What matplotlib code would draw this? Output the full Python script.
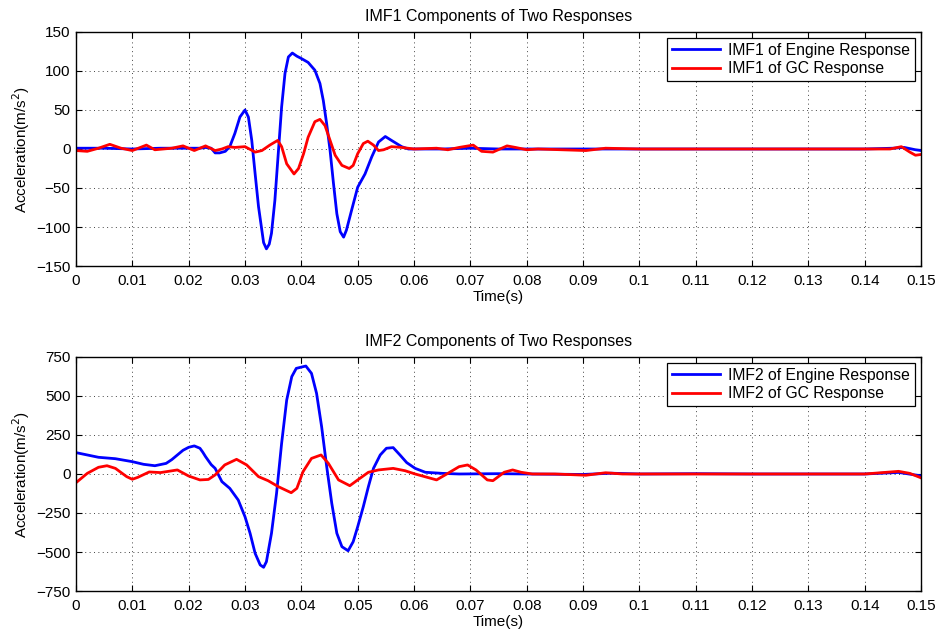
import matplotlib
matplotlib.use("Agg")
import matplotlib.pyplot as plt

plt.rcParams['font.family'] = ['Liberation Sans', 'DejaVu Sans']

# ---- IMF1 data ----
t_eng1 = [0.000, 0.005, 0.010, 0.015, 0.020, 0.022, 0.023, 0.0240, 0.0247, 0.0255,
          0.0265, 0.0273, 0.0282, 0.0291, 0.0300, 0.0306, 0.0312, 0.0318, 0.0324, 0.0333,
          0.0338, 0.0343, 0.0347, 0.0353, 0.0359, 0.0365, 0.0371, 0.0377, 0.0384, 0.0392,
          0.0400, 0.0412, 0.0424, 0.0433, 0.0439, 0.0445, 0.0451, 0.0457, 0.0463, 0.0469,
          0.0475, 0.0480, 0.0489, 0.0500, 0.0513, 0.0525, 0.0537, 0.0549, 0.0560, 0.0578,
          0.0590, 0.0600, 0.065, 0.070, 0.075, 0.080, 0.090, 0.100, 0.110, 0.120,
          0.130, 0.140, 0.145, 0.147, 0.149, 0.150]
y_eng1 = [1, 1, 0, 1, 1, 1, 2, 1, -5, -5,
          -3, 3, 20, 41, 50, 41, 11, -32, -74, -120,
          -128, -122, -108, -66, -6, 54, 97, 118, 123, 119,
          116, 111, 101, 84, 62, 32, -2, -44, -83, -106,
          -113, -104, -79, -49, -32, -10, 9, 16, 11, 3,
          0, 0, 0, 1, 0, 0, 0, 0, 0, 0,
          0, 0, 1, 2, -1, -2]

t_gc1 = [0.000, 0.002, 0.004, 0.006, 0.008, 0.010, 0.0125, 0.014, 0.017, 0.019,
         0.021, 0.023, 0.0247, 0.0259, 0.0270, 0.0282, 0.0300, 0.0318, 0.0330, 0.0344,
         0.0358, 0.0365, 0.0374, 0.0387, 0.0395, 0.0404, 0.0412, 0.0424, 0.0433, 0.0442,
         0.0451, 0.0460, 0.0472, 0.0485, 0.0492, 0.0500, 0.0510, 0.0518, 0.0528, 0.0537,
         0.0546, 0.0560, 0.0578, 0.0600, 0.064, 0.066, 0.068, 0.0705, 0.072, 0.074,
         0.0765, 0.078, 0.080, 0.082, 0.0905, 0.094, 0.100, 0.110, 0.120, 0.130,
         0.140, 0.1445, 0.1465, 0.148, 0.149, 0.150]
y_gc1 = [-2, -3, 1, 6, 1, -2, 5, -1, 1, 4,
         -2, 4, -2, 0, 3, 2, 3, -4, -2, 5,
         11, 3, -19, -32, -25, -6, 15, 35, 38, 30,
         11, -8, -21, -25, -21, -6, 7, 10, 5, -2,
         -1, 3, 2, 0, 1, -1, 2, 5, -3, -4,
         4, 2, -1, 0, -2, 1, 0, 0, 0, 0,
         0, 0, 3, -4, -8, -7]

# ---- IMF2 data ----
t_eng2 = [0.000, 0.002, 0.004, 0.007, 0.010, 0.012, 0.014, 0.016, 0.017, 0.018,
          0.019, 0.020, 0.021, 0.022, 0.0225, 0.023, 0.024, 0.0247, 0.0259, 0.0273,
          0.0288, 0.0300, 0.0309, 0.0318, 0.0327, 0.0333, 0.0338, 0.0347, 0.0356, 0.0365,
          0.0374, 0.0383, 0.0391, 0.0408, 0.0418, 0.0427, 0.0436, 0.0445, 0.0454, 0.0463,
          0.0472, 0.0483, 0.0492, 0.0500, 0.0510, 0.0519, 0.0528, 0.0540, 0.0551, 0.0563,
          0.0575, 0.0587, 0.0602, 0.062, 0.065, 0.068, 0.075, 0.080, 0.090, 0.095,
          0.100, 0.110, 0.120, 0.130, 0.140, 0.146, 0.150]
y_eng2 = [137, 122, 107, 98, 79, 62, 53, 68, 92, 122,
          152, 171, 180, 165, 140, 111, 60, 36, -49, -92,
          -167, -274, -380, -509, -583, -598, -562, -380, -124, 197,
          474, 624, 677, 692, 645, 517, 303, 47, -188, -380,
          -466, -492, -434, -338, -209, -81, 36, 122, 165, 169,
          122, 73, 36, 11, 4, 0, 2, 0, -3, 5,
          0, 2, 0, 0, 0, 10, -12]

t_gc2 = [0.000, 0.002, 0.004, 0.0055, 0.007, 0.009, 0.010, 0.011, 0.013, 0.015,
         0.018, 0.020, 0.022, 0.0235, 0.0247, 0.0264, 0.0285, 0.0303, 0.0324, 0.0341,
         0.0359, 0.0382, 0.0392, 0.0403, 0.0418, 0.0435, 0.0448, 0.0466, 0.0486, 0.0500,
         0.0519, 0.0537, 0.0563, 0.0584, 0.0602, 0.063, 0.064, 0.066, 0.068, 0.0695,
         0.071, 0.073, 0.074, 0.076, 0.0775, 0.079, 0.081, 0.085, 0.0905, 0.094,
         0.097, 0.100, 0.110, 0.120, 0.130, 0.140, 0.146, 0.148, 0.150]
y_gc2 = [-56, 4, 43, 53, 36, -17, -34, -21, 13, 9,
         26, -13, -38, -35, -6, 58, 94, 58, -17, -43,
         -81, -120, -92, 15, 100, 122, 68, -38, -75, -38,
         11, 26, 36, 21, 0, -28, -38, 4, 47, 58,
         26, -38, -43, 11, 26, 11, 0, 0, -8, 8,
         0, 0, 0, 0, 0, 0, 17, 4, -25]

x_ticks = [0, 0.01, 0.02, 0.03, 0.04, 0.05, 0.06, 0.07, 0.08, 0.09, 0.1,
           0.11, 0.12, 0.13, 0.14, 0.15]
x_ticklabels = ['0', '0.01', '0.02', '0.03', '0.04', '0.05', '0.06', '0.07', '0.08',
                '0.09', '0.1', '0.11', '0.12', '0.13', '0.14', '0.15']
y_ticks1 = [-150, -100, -50, 0, 50, 100, 150]
y_ticks2 = [-750, -500, -250, 0, 250, 500, 750]

fig = plt.figure(figsize=(9.38, 6.37), dpi=100)
ax1 = fig.add_axes([0.081, 0.5824, 0.901, 0.3674])
ax2 = fig.add_axes([0.081, 0.0722, 0.901, 0.3674])

panels = [
    (ax1, t_eng1, y_eng1, t_gc1, y_gc1, y_ticks1, 'IMF1'),
    (ax2, t_eng2, y_eng2, t_gc2, y_gc2, y_ticks2, 'IMF2'),
]
for ax, te, ye, tg, yg, yt, name in panels:
    ax.plot(te, ye, color='#0000ff', lw=2.0, label=f'{name} of Engine Response',
            solid_joinstyle='round')
    ax.plot(tg, yg, color='#ff0000', lw=2.0, label=f'{name} of GC Response',
            solid_joinstyle='round')
    ax.set_xlim(0, 0.15)
    ax.set_ylim(yt[0], yt[-1])
    ax.set_xticks(x_ticks)
    ax.set_xticklabels(x_ticklabels)
    ax.set_yticks(yt)
    ax.grid(True, linestyle=(0, (1, 3.5)), color='#444444', linewidth=0.7)
    ax.tick_params(direction='in', top=True, right=True, labelsize=11, length=4)
    ax.tick_params(axis='x', pad=6)
    ax.tick_params(axis='y', pad=4)
    for s in ax.spines.values():
        s.set_linewidth(1.0)
    ax.set_xlabel('Time(s)', fontsize=11, labelpad=1)
    ax.set_ylabel('Acceleration(m/s$^2$)', fontsize=11, labelpad=3)
    ax.set_title(f'{name} Components of Two Responses', fontsize=11.5, pad=8)
    leg = ax.legend(loc='upper right', fontsize=11.3, fancybox=False, framealpha=1,
                    edgecolor='black', handlelength=3.1, borderaxespad=0.4,
                    labelspacing=0.2, borderpad=0.3, handletextpad=0.5)
    leg.get_frame().set_linewidth(0.9)

fig.savefig('out.png', dpi=100)
